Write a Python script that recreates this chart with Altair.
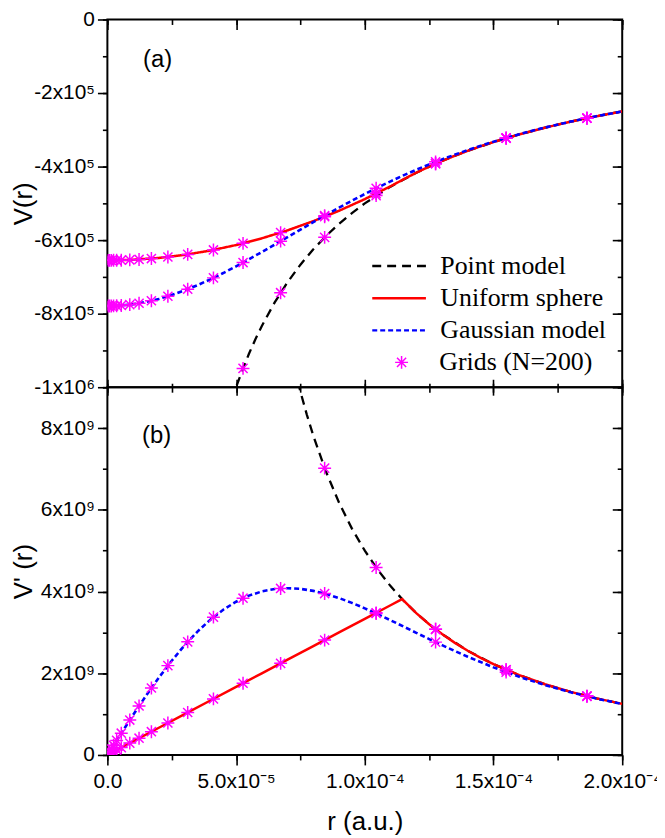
import json
import altair as alt
import pandas as pd

# ------------------------------------------------------------------
# Data (r in units of 1e-6 a.u.)
# ------------------------------------------------------------------
# Gaussian model curves
r_gauss = [0, 5, 10, 15, 20, 25, 30, 35, 40, 45, 50, 55, 60, 65, 70, 75, 80, 85, 90, 95,
           100, 105, 110, 115, 120, 125, 130, 140, 150, 160, 170, 180, 190, 200]
v_gauss = [-779146, -777909, -774221, -768143, -759779, -749264, -736771, -722496, -706653,
           -689471, -671190, -652046, -632275, -612097, -591724, -571345, -551133, -531236,
           -511781, -492872, -474592, -457001, -440142, -424041, -408710, -394146, -380339,
           -354910, -332202, -311944, -293853, -277656, -263104, -249977]
dv_gauss = [0.0, 0.4939, 0.9794, 1.4483, 1.8930, 2.3068, 2.6838, 3.0194, 3.3102, 3.5541,
            3.7504, 3.8993, 4.0023, 4.0619, 4.0813, 4.0644, 4.0155, 3.9390, 3.8395, 3.7213,
            3.5889, 3.4461, 3.2966, 3.1434, 2.9893, 2.8366, 2.6870, 2.4026, 2.1436, 1.9127,
            1.7100, 1.5336, 1.3806, 1.2480]          # x 1e9

# Uniform sphere curves
r_unif = [0, 10, 20, 30, 40, 50, 60, 70, 80, 90, 100, 110, 114.5, 120, 125, 130, 135, 140,
          145, 150, 160, 170, 180, 190, 200]
v_unif = [-655022, -653358, -648361, -640034, -628376, -613388, -595068, -573418, -548436,
          -520124, -488481, -453508, -436681, -416667, -400000, -384615, -370370, -357143,
          -344828, -333333, -312500, -294118, -277778, -263158, -250000]
dv_unif = [0.0, 0.3331, 0.6662, 0.9992, 1.3323, 1.6654, 1.9985, 2.3316, 2.6646, 2.9977,
           3.3308, 3.6639, 3.8138, 3.4722, 3.2000, 2.9586, 2.7435, 2.5510, 2.3781, 2.2222,
           1.9531, 1.7301, 1.5432, 1.3850, 1.2500]    # x 1e9

# Point model curves
r_point_v = [45, 47.5, 50, 52.5, 55, 57.5, 60, 65, 70, 75, 80, 85, 90, 95, 100, 110, 120,
             130, 140, 150, 160, 170, 180, 190, 200]
v_point = [-1111111, -1052632, -1000000, -952381, -909091, -869565, -833333, -769231, -714286,
           -666667, -625000, -588235, -555556, -526316, -500000, -454545, -416667, -384615,
           -357143, -333333, -312500, -294118, -277778, -263158, -250000]
r_point_dv = [70, 72.5, 75, 77.5, 80, 85, 90, 95, 100, 105, 110, 115, 120, 125, 130, 140, 150,
              160, 170, 180, 190, 200]
dv_point = [10.204, 9.5125, 8.8889, 8.3247, 7.8125, 6.9204, 6.1728, 5.5402, 5.0000, 4.5351,
            4.1322, 3.7807, 3.4722, 3.2000, 2.9586, 2.5510, 2.2222, 1.9531, 1.7301, 1.5432,
            1.3850, 1.2500]                          # x 1e9

# Grid points (N=200, shown subset)
r_grid = [0.3, 0.8, 1.5, 2.4, 3.6, 5.4, 8.7, 12.3, 17.1, 23.5, 31.2, 41.2, 52.7, 67.3, 84.4,
          104.4, 127.5, 154.9, 186.3]
grid_v_unif = [-655021, -655019, -654985, -654926, -654806, -654536, -653762, -652502, -650152,
               -645824, -638811, -626754, -608769, -579590, -536388, -473504, -392157, -322789,
               -268384]
grid_v_gauss = [-779142, -779114, -779035, -778861, -778505, -777703, -775411, -771717,
                -764902, -752635, -733500, -702642, -660945, -602737, -533602, -459074,
                -387149, -321988, -268311]
r_grid_point_v = [52.7, 67.3, 84.4, 104.4, 127.5, 154.9, 186.3]
grid_v_point = [-948767, -742942, -592417, -478927, -392157, -322789, -268384]
grid_dv_unif = [0.0100, 0.0266, 0.0500, 0.0799, 0.1199, 0.1799, 0.2898, 0.4097, 0.5696,
                0.7827, 1.0392, 1.3723, 1.7553, 2.2416, 2.8112, 3.4774, 3.0757, 2.0839, 1.4406]
grid_dv_gauss = [0.0297, 0.0792, 0.1486, 0.2376, 0.3561, 0.5332, 0.8544, 1.1976, 1.6384,
                 2.1863, 2.7683, 3.3731, 3.8365, 4.0756, 3.9495, 3.4637, 2.7613, 2.0269, 1.4346]
r_grid_point_dv = [84.4, 104.4, 127.5, 154.9, 186.3]
grid_dv_point = [7.0192, 4.5874, 3.0757, 2.0839, 1.4406]

line_names = ["Point model", "Uniform sphere", "Gaussian model"]
line_colors = ["#000000", "#FF0000", "#0000FF"]
line_dashes = [[9, 6], [1, 0], [5, 3]]
grid_name = "Grids (N=200)"
grid_color = "#FF00FF"

# Axis ticks and labels
x_major = [0, 5e-5, 1e-4, 1.5e-4, 2e-4]
x_minor = [0, 2.5e-5, 5e-5, 7.5e-5, 1e-4, 1.25e-4, 1.5e-4, 1.75e-4, 2e-4]
x_labels = ["0.0", "5.0x10\u207b\u2075", "1.0x10\u207b\u2074", "1.5x10\u207b\u2074", "2.0x10\u207b\u2074"]
vt_major = [0, -200000, -400000, -600000, -800000, -1000000]
vt_minor = [0, -100000, -200000, -300000, -400000, -500000, -600000, -700000, -800000, -900000, -1000000]
vt_labels = ["0", "-2x10\u2075", "-4x10\u2075", "-6x10\u2075", "-8x10\u2075", "-1x10\u2076"]
vb_major = [0, 2e9, 4e9, 6e9, 8e9]
vb_minor = [0, 1e9, 2e9, 3e9, 4e9, 5e9, 6e9, 7e9, 8e9, 9e9]
vb_labels = ["0", "2x10\u2079", "4x10\u2079", "6x10\u2079", "8x10\u2079"]

panel_a = ["(a)"]
panel_a_r = [19.5]
panel_a_v = [-110800]
panel_b = ["(b)"]
panel_b_r = [19.1]
panel_b_v = [7.8e9]

# ------------------------------------------------------------------
def frame(r, vals, mult, name):
    return pd.DataFrame({"r": [x * 1e-6 for x in r], "v": [y * mult for y in vals], "series": name})

top_point = frame(r_point_v, v_point, 1, line_names[0])
top_unif = frame(r_unif, v_unif, 1, line_names[1])
top_gauss = frame(r_gauss, v_gauss, 1, line_names[2])
top_grid = pd.concat([
    frame(r_grid, grid_v_unif, 1, grid_name),
    frame(r_grid, grid_v_gauss, 1, grid_name),
    frame(r_grid_point_v, grid_v_point, 1, grid_name),
])
bot_point = frame(r_point_dv, dv_point, 1e9, line_names[0])
bot_unif = frame(r_unif, dv_unif, 1e9, line_names[1])
bot_gauss = frame(r_gauss, dv_gauss, 1e9, line_names[2])
bot_grid = pd.concat([
    frame(r_grid, grid_dv_unif, 1e9, grid_name),
    frame(r_grid, grid_dv_gauss, 1e9, grid_name),
    frame(r_grid_point_dv, grid_dv_point, 1e9, grid_name),
])
lab_a = pd.DataFrame({"r": [x * 1e-6 for x in panel_a_r], "v": panel_a_v, "label": panel_a})
lab_b = pd.DataFrame({"r": [x * 1e-6 for x in panel_b_r], "v": panel_b_v, "label": panel_b})

STAR = "M-1,0L1,0M0,-1L0,1M-0.7071,-0.7071L0.7071,0.7071M-0.7071,0.7071L0.7071,-0.7071"
STAR_SIZE = 169
W, H = 518, 370
xs = alt.Scale(domain=[0, 2e-4], nice=False, zero=False)
ys_top = alt.Scale(domain=[-1e6, 0], nice=False, zero=False)
ys_bot = alt.Scale(domain=[0, 9e9], nice=False, zero=False)


def lexpr(vals, labs):
    return "[" + ",".join(json.dumps(l) for l in labs) + "][indexof([" + ",".join(repr(float(v)) for v in vals) + "], datum.value)]"


def ax(orient, values, size, offset=0, labels=False, expr=None, title=None, **kw):
    d = dict(orient=orient, values=values, tickSize=size, offset=offset, labels=labels,
             domain=False, grid=False, ticks=True, tickColor="black", tickWidth=1.6, title=title)
    if labels:
        d["labelExpr"] = expr
    d.update(kw)
    return alt.Axis(**d)


line_legend = alt.Legend(
    title=None, orient="none", legendX=265, legendY=235, padding=0,
    labelFont="Liberation Serif", labelFontSize=26, labelColor="black", labelOffset=13,
    labelLimit=400, clipHeight=26, rowPadding=6.4, symbolType="stroke", symbolSize=2916,
    symbolStrokeWidth=2.5,
)
color = alt.Color("series:N", scale=alt.Scale(domain=line_names, range=line_colors), legend=line_legend)
dash = alt.StrokeDash("series:N", scale=alt.Scale(domain=line_names, range=line_dashes), legend=line_legend)
grid_legend = alt.Legend(
    title=None, orient="none", legendX=283, legendY=332, padding=0,
    labelFont="Liberation Serif", labelFontSize=26, labelColor="black", labelOffset=25,
    labelLimit=400, clipHeight=26, symbolSize=STAR_SIZE, symbolStrokeWidth=1.5,
    symbolStrokeColor=grid_color, symbolFillColor="transparent", symbolOpacity=1,
)
shape = alt.Shape("series:N", scale=alt.Scale(domain=[grid_name], range=[STAR]), legend=grid_legend)

# ---------------- top panel ----------------
t1 = alt.Chart(top_point).mark_line(clip=True, strokeWidth=2.3).encode(
    x=alt.X("r:Q", scale=xs, axis=ax("bottom", x_major, 16, offset=-8)),
    y=alt.Y("v:Q", scale=ys_top, axis=ax("left", vt_major, 10, labels=True, expr=lexpr(vt_major, vt_labels),
                                         title="V(r)", labelPadding=3, titleX=-84, titleY=185,
                                         titleBaseline="middle")),
    color=color, strokeDash=dash, order=alt.Order("r:Q"))
t2 = alt.Chart(top_unif).mark_line(clip=True, strokeWidth=2.5).encode(
    x=alt.X("r:Q", scale=xs, axis=ax("bottom", x_minor, 9, offset=-4)),
    y=alt.Y("v:Q", scale=ys_top, axis=ax("left", vt_minor, 5)),
    color=color, strokeDash=dash, order=alt.Order("r:Q"))
t3 = alt.Chart(top_gauss).mark_line(clip=True, strokeWidth=2.6).encode(
    x=alt.X("r:Q", scale=xs, axis=ax("top", x_major, 10, offset=-10)),
    y=alt.Y("v:Q", scale=ys_top, axis=ax("right", vt_major, 10, offset=-10)),
    color=color, strokeDash=dash, order=alt.Order("r:Q"))
t4 = alt.Chart(top_grid).mark_point(clip=True, size=STAR_SIZE, filled=False, strokeWidth=1.5, opacity=1,
                                    color=grid_color).encode(
    x=alt.X("r:Q", scale=xs, axis=ax("top", x_minor, 5, offset=-5)),
    y=alt.Y("v:Q", scale=ys_top, axis=ax("right", vt_minor, 5, offset=-5)),
    shape=shape)
t5 = alt.Chart(lab_a).mark_text(font="Liberation Sans", fontSize=24, color="black").encode(
    x=alt.X("r:Q", scale=xs, axis=None), y=alt.Y("v:Q", scale=ys_top, axis=None), text="label:N")

top = alt.layer(t1, t2, t3, t4, t5).resolve_axis(x="independent", y="independent").properties(width=W, height=H)

# ---------------- bottom panel ----------------
b1 = alt.Chart(bot_point).mark_line(clip=True, strokeDash=line_dashes[0], strokeWidth=2.3, color=line_colors[0]).encode(
    x=alt.X("r:Q", scale=xs, axis=ax("bottom", x_major, 10, labels=True, expr=lexpr(x_major, x_labels),
                                     title="r (a.u.)", labelPadding=6, labelFlush=False,
                                     titleY=67, titleBaseline="middle")),
    y=alt.Y("v:Q", scale=ys_bot, axis=ax("left", vb_major, 10, labels=True, expr=lexpr(vb_major, vb_labels),
                                         title="V' (r)", labelPadding=3, titleX=-84, titleY=185,
                                         titleBaseline="middle")),
    order=alt.Order("r:Q"))
b2 = alt.Chart(bot_unif).mark_line(clip=True, strokeWidth=2.5, color=line_colors[1]).encode(
    x=alt.X("r:Q", scale=xs, axis=ax("bottom", x_minor, 5)),
    y=alt.Y("v:Q", scale=ys_bot, axis=ax("left", vb_minor, 5)),
    order=alt.Order("r:Q"))
b3 = alt.Chart(bot_gauss).mark_line(clip=True, strokeDash=line_dashes[2], strokeWidth=2.6, color=line_colors[2]).encode(
    x=alt.X("r:Q", scale=xs, axis=None),
    y=alt.Y("v:Q", scale=ys_bot, axis=ax("right", vb_major, 10, offset=-10)),
    order=alt.Order("r:Q"))
b4 = alt.Chart(bot_grid).mark_point(clip=True, shape=STAR, size=STAR_SIZE, filled=False, strokeWidth=1.5, opacity=1,
                                    color=grid_color).encode(
    x=alt.X("r:Q", scale=xs, axis=None),
    y=alt.Y("v:Q", scale=ys_bot, axis=ax("right", vb_minor, 5, offset=-5)))
b5 = alt.Chart(lab_b).mark_text(font="Liberation Sans", fontSize=24, color="black").encode(
    x=alt.X("r:Q", scale=xs, axis=None), y=alt.Y("v:Q", scale=ys_bot, axis=None), text="label:N")

bottom = alt.layer(b1, b2, b3, b4, b5).resolve_axis(x="independent", y="independent").properties(width=W, height=H)

chart = alt.vconcat(top, bottom, spacing=0, bounds="flush").resolve_scale(
    color="independent", strokeDash="independent", shape="independent"
).properties(
    padding={"left": 2, "top": -3, "right": -6, "bottom": 0}
).configure_view(stroke="black", strokeWidth=2).configure_axis(
    labelFont="Liberation Sans", labelFontSize=21, labelColor="black",
    titleFont="Liberation Sans", titleFontSize=26, titleFontWeight="normal", titleColor="black",
)

chart.save("out.html", embed_options={"renderer": "svg", "actions": False})
